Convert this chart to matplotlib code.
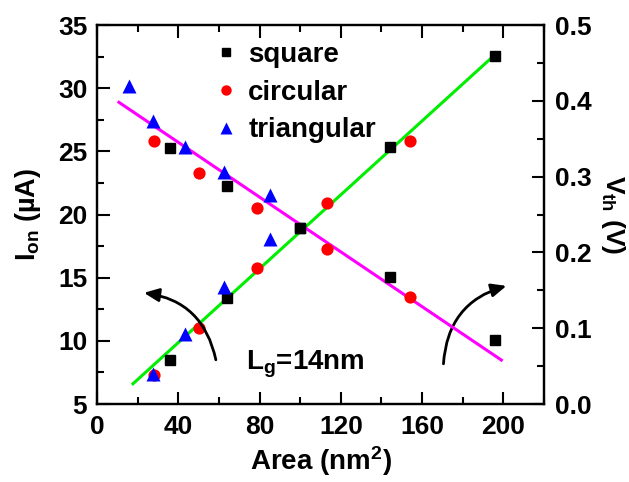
import matplotlib
matplotlib.use("Agg")
import matplotlib.pyplot as plt
from matplotlib.lines import Line2D
from matplotlib.ticker import MultipleLocator, FormatStrFormatter

plt.rcParams['font.family'] = ['Liberation Sans', 'DejaVu Sans']
plt.rcParams['font.weight'] = 'bold'
plt.rcParams['mathtext.fontset'] = 'custom'
plt.rcParams['mathtext.rm'] = 'Liberation Sans:bold'
plt.rcParams['mathtext.bf'] = 'Liberation Sans:bold'
plt.rcParams['mathtext.it'] = 'Liberation Sans:bold'

# ---- data ----
area_square = [36, 64, 100, 144, 196]
ion_square = [8.5, 13.4, 18.95, 25.35, 32.55]
vth_square = [0.338, 0.288, 0.232, 0.1675, 0.0844]

area_circ = [28.3, 50.3, 78.5, 113.1, 153.9]
ion_circ = [7.31, 11.03, 15.78, 20.9, 25.8]
vth_circ = [0.347, 0.305, 0.2586, 0.2045, 0.141]

area_tri_ion = [27.7, 43.3, 62.4, 84.9]
ion_tri = [7.4, 10.55, 14.27, 18.07]
area_tri_vth = [15.6, 27.7, 43.3, 62.4, 84.9]
vth_tri = [0.4195, 0.373, 0.339, 0.306, 0.276]

fit_ion_x = [17.7, 195.5]
fit_ion_y = [6.6, 32.6]
fit_vth_x = [10.8, 199.0]
fit_vth_y = [0.398, 0.058]

legend_labels = ['square', 'circular', 'triangular']

fig = plt.figure(figsize=(6.29, 4.82), dpi=100)
ax1 = fig.add_axes([0.1542, 0.1618, 0.7107, 0.7863])
ax2 = ax1.twinx()

ms_sq, ms_ci, ms_tr = 7.8, 8.8, 10.0
ax1.plot(fit_ion_x, fit_ion_y, color='#00ee00', lw=2.2, zorder=2)
ax2.plot(fit_vth_x, fit_vth_y, color='#ff00ff', lw=2.2, zorder=2)

ax1.plot(area_square, ion_square, 's', color='black', ms=ms_sq, ls='none', zorder=3)
ax1.plot(area_circ, ion_circ, 'o', color='#ff0000', ms=ms_ci, ls='none', zorder=3, mec='none')
ax1.plot(area_tri_ion, ion_tri, '^', color='#0000ff', ms=ms_tr, ls='none', zorder=3, mec='none')

ax2.plot(area_square, vth_square, 's', color='black', ms=ms_sq, ls='none', zorder=3)
ax2.plot(area_circ, vth_circ, 'o', color='#ff0000', ms=ms_ci, ls='none', zorder=3, mec='none')
ax2.plot(area_tri_vth, vth_tri, '^', color='#0000ff', ms=ms_tr, ls='none', zorder=3, mec='none')

ax1.set_xlim(0, 220)
ax1.set_ylim(5, 35)
ax2.set_ylim(0.0, 0.5)

ax1.xaxis.set_major_locator(MultipleLocator(40))
ax1.xaxis.set_minor_locator(MultipleLocator(20))
ax1.yaxis.set_major_locator(MultipleLocator(5))
ax1.yaxis.set_minor_locator(MultipleLocator(2.5))
ax2.yaxis.set_major_locator(MultipleLocator(0.1))
ax2.yaxis.set_minor_locator(MultipleLocator(0.05))

for ax in (ax1, ax2):
    for s in ax.spines.values():
        s.set_linewidth(1.6)
ax1.tick_params(which='both', direction='in', top=True, width=1.5, labelsize=19)
ax1.tick_params(axis='x', pad=8)
ax1.tick_params(axis='y', pad=7)
ax1.tick_params(which='major', length=9)
ax1.tick_params(which='minor', length=5)
ax1.tick_params(axis='y', which='both', right=False)
ax2.tick_params(which='both', direction='in', width=1.5, labelsize=19, pad=8)
ax2.tick_params(which='major', length=9)
ax2.tick_params(which='minor', length=5)
ax2.yaxis.set_major_formatter(FormatStrFormatter('%.1f'))
for lab in ax1.get_xticklabels() + ax1.get_yticklabels() + ax2.get_yticklabels():
    lab.set_fontweight('bold')

ax1.set_xlabel('Area (nm$^2$)', fontsize=20, fontweight='bold', labelpad=4)
ax1.set_ylabel('I$_{on}$ (µA)', fontsize=19.5, fontweight='bold', labelpad=11)
ax2.set_ylabel('V$_{th}$ (V)', fontsize=19, fontweight='bold', rotation=270, labelpad=25)

handles = [
    Line2D([], [], marker='s', color='black', ls='none', ms=6),
    Line2D([], [], marker='o', color='#ff0000', ls='none', ms=7.5, mec='none'),
    Line2D([], [], marker='^', color='#0000ff', ls='none', ms=9, mec='none'),
]
leg = ax2.legend(handles, legend_labels, loc='upper left',
                 bbox_to_anchor=(215 / 629, 1 - 42 / 482), bbox_transform=fig.transFigure,
                 frameon=False, fontsize=20,
                 handlelength=0.8, handletextpad=0.4, labelspacing=0.42,
                 borderpad=0, borderaxespad=0)
for t in leg.get_texts():
    t.set_fontweight('bold')

ax1.text(73.2, 7.71, 'L$_g$=14nm', fontsize=20, fontweight='bold',
         ha='left', va='baseline')

ax1.annotate('', xy=(23.1, 13.8), xytext=(58.5, 8.5),
             arrowprops=dict(arrowstyle='-|>,head_length=0.9,head_width=0.4',
                             color='black', lw=2,
                             connectionstyle='arc3,rad=0.35', shrinkA=0, shrinkB=0))
ax1.annotate('', xy=(201.5, 14.35), xytext=(170.5, 8.18),
             arrowprops=dict(arrowstyle='-|>,head_length=0.9,head_width=0.4',
                             color='black', lw=2,
                             connectionstyle='arc3,rad=-0.35', shrinkA=0, shrinkB=0))

fig.savefig('out.png', dpi=100)
